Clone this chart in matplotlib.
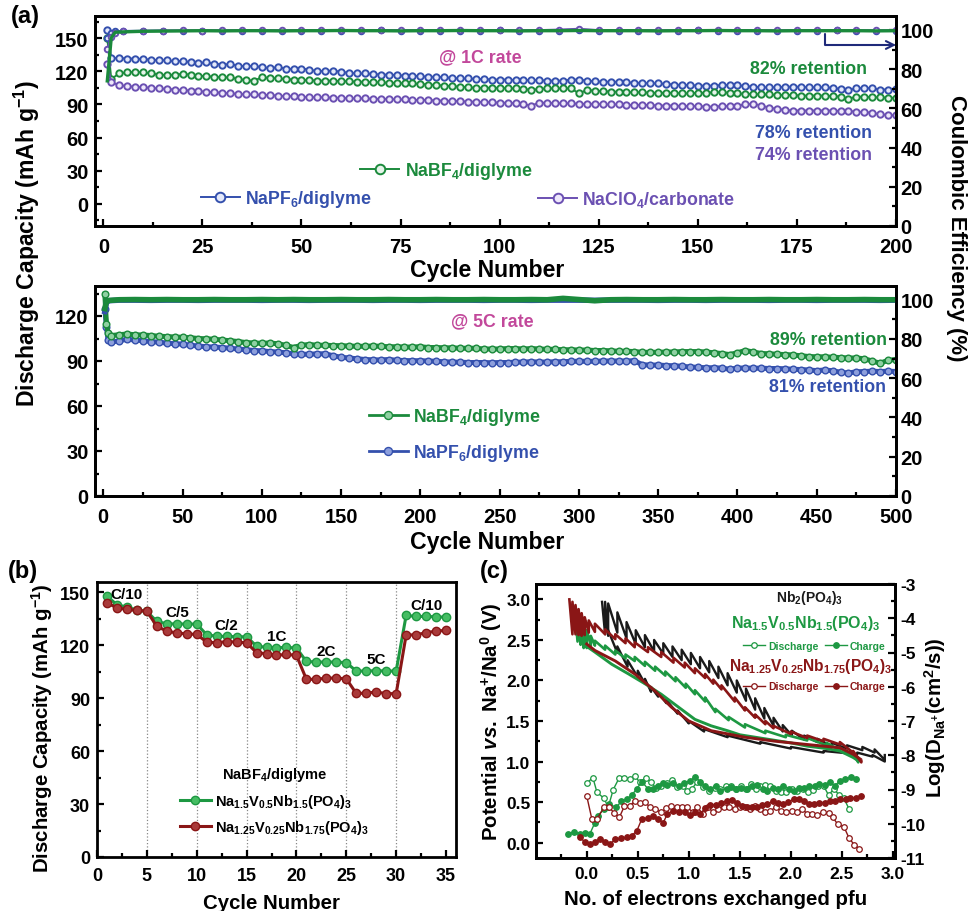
import numpy as np
import matplotlib
matplotlib.use('Agg')
import matplotlib.pyplot as plt
from matplotlib.ticker import MultipleLocator

plt.rcParams['font.family'] = 'Liberation Sans'
plt.rcParams['font.weight'] = 'bold'
plt.rcParams['mathtext.fontset'] = 'custom'
plt.rcParams['mathtext.rm'] = 'Liberation Sans:bold'
plt.rcParams['mathtext.it'] = 'Liberation Sans:italic:bold'
plt.rcParams['mathtext.bf'] = 'Liberation Sans:bold'
plt.rcParams['axes.linewidth'] = 2.0
plt.rcParams['axes.unicode_minus'] = False

# ---------------- (a) 1C cycling, 200 cycles ----------------
cycles_1c = np.r_[1, 2, np.arange(4, 201, 2)]
pf6_cap_1c = [157.0, 132.0,
              132.0, 131.5, 131.5, 131.0, 130.5, 130.0, 130.0, 129.0, 129.5, 128.0,
              127.5, 128.0, 127.0, 126.0, 126.5, 125.0, 124.5, 125.0, 123.5, 123.0,
              123.5, 122.5, 122.0, 122.5, 121.5, 120.0, 120.5, 120.5, 119.5, 118.5,
              118.0, 118.0, 117.5, 117.0, 117.0, 116.5, 116.0, 116.0, 115.5, 115.0,
              115.0, 114.5, 114.0, 113.5, 113.5, 113.0, 113.0, 112.5, 112.5, 112.5,
              112.0, 112.0, 112.0, 112.0, 111.5, 111.5, 111.5, 112.5, 112.5, 111.5,
              111.0, 110.5, 110.5, 110.5, 110.0, 109.5, 109.5, 109.0, 109.0, 108.5,
              108.0, 107.5, 107.5, 107.0, 107.0, 107.0, 107.5, 107.5, 107.5, 106.5,
              106.0, 105.5, 105.5, 105.5, 106.0, 106.0, 106.0, 105.5, 105.5, 105.5,
              105.0, 104.0, 103.0, 104.5, 105.0, 104.5, 103.5, 103.5, 104.0]
bf4_cap_1c = [150.0, 113.0,
              118.0, 119.0, 119.5, 119.0, 118.0, 117.0, 116.5, 117.0, 117.5, 117.0,
              116.0, 115.5, 115.0, 114.5, 114.5, 113.0, 112.0, 111.5, 114.5, 114.0,
              113.5, 113.0, 112.5, 112.0, 112.0, 111.5, 111.5, 111.5, 111.0, 111.0,
              110.5, 110.5, 110.0, 110.0, 109.5, 109.5, 109.0, 109.0, 108.5, 108.0,
              107.5, 107.0, 106.5, 106.0, 105.5, 105.0, 105.0, 105.0, 105.0, 104.5,
              104.5, 104.0, 103.0, 104.0, 104.5, 104.5, 104.5, 104.5, 100.0, 103.0,
              102.5, 102.0, 101.5, 101.5, 101.0, 101.0, 101.0, 100.5, 100.5, 100.5,
              100.5, 100.0, 100.0, 100.5, 100.5, 101.0, 101.0, 100.5, 100.0, 99.5,
              99.5, 99.0, 99.0, 98.5, 98.5, 98.5, 98.0, 98.0, 98.0, 98.0,
              97.5, 97.0, 95.0, 97.0, 97.0, 96.5, 96.5, 96.0, 96.0]
clo4_cap_1c = [126.5, 110.0,
               107.5, 106.5, 106.0, 105.5, 105.0, 104.5, 104.0, 103.5, 103.0, 102.5,
               102.0, 101.5, 101.0, 100.5, 100.0, 99.5, 99.0, 99.0, 98.5, 98.5,
               98.0, 97.5, 97.5, 97.0, 96.5, 96.5, 96.5, 96.0, 96.0, 95.5,
               95.5, 95.5, 95.0, 95.0, 95.0, 94.5, 94.5, 94.0, 94.0, 94.0,
               93.5, 93.5, 93.0, 93.0, 92.5, 92.5, 92.0, 92.0, 91.5, 91.5,
               91.0, 90.0, 89.0, 91.5, 91.5, 91.0, 91.0, 91.0, 90.5, 90.5,
               90.5, 90.0, 90.0, 90.0, 89.5, 89.5, 89.5, 89.5, 89.0, 89.0,
               89.0, 88.5, 88.5, 88.5, 88.0, 88.0, 88.5, 88.5, 89.0, 90.0,
               90.5, 89.0, 87.0, 86.0, 85.0, 84.5, 84.5, 84.5, 84.5, 84.5,
               84.5, 84.0, 84.0, 83.5, 83.0, 82.5, 81.0, 80.5, 80.0]

ce_cycles_1c = np.r_[1, 2, 3, np.arange(5, 201, 5)]
pf6_ce_1c = [96.0, 98.5, 99.3,
             99.5, 99.6, 99.7, 99.6, 99.7, 99.7, 99.6, 99.7, 99.7, 99.7,
             99.6, 99.7, 99.7, 99.8, 99.6, 99.7, 99.7, 99.6, 99.7, 99.8,
             99.7, 99.6, 99.7, 99.8, 99.7, 99.7, 99.6, 99.7, 99.7, 99.8,
             99.6, 99.7, 99.7, 99.6, 99.7, 99.7, 99.8, 99.6, 99.7, 99.7]
bf4_ce_1c = [74.0, 96.0, 98.8,
             99.0, 99.3, 99.4, 99.5, 99.6, 99.5, 99.6, 99.6, 99.5, 99.6,
             99.6, 99.7, 99.6, 99.6, 99.5, 99.6, 99.6, 99.7, 99.6, 99.6,
             99.5, 99.6, 99.6, 99.7, 99.6, 99.6, 99.6, 99.5, 99.6, 99.6,
             99.7, 99.6, 99.6, 99.5, 99.6, 99.6, 99.6, 99.6, 99.5, 99.6]
clo4_ce_1c = [90.5, 96.5, 98.5,
              99.2, 99.5, 99.6, 99.8, 99.7, 99.8, 99.9, 99.8, 99.8, 99.9,
              99.8, 99.9, 99.8, 99.8, 99.9, 99.8, 99.9, 99.8, 99.9, 99.8,
              99.8, 99.9, 100.2, 100.6, 99.9, 99.8, 99.9, 99.8, 99.8, 99.9,
              99.8, 99.9, 99.8, 99.8, 99.9, 99.8, 99.9, 99.8, 99.8, 99.8]

# ---------------- (a) 5C cycling, 500 cycles ----------------
cycles_5c = np.r_[1, 2, 3, np.arange(5, 501, 5)]
bf4_cap_5c = [134.5, 115.0, 109.0,
              107.0, 107.5, 108.0, 107.5, 107.3, 107.0, 106.5, 106.3, 106.0, 105.8,
              105.5, 105.0, 104.8, 104.5, 104.0, 103.5, 103.0, 102.3, 102.0, 101.8,
              102.0, 101.5, 100.5, 99.0, 100.5, 101.0, 100.5, 100.5, 100.3, 100.2,
              100.0, 99.8, 99.8, 100.0, 99.8, 99.5, 99.5, 99.3, 99.3, 99.5,
              99.0, 99.0, 98.8, 98.8, 98.5, 98.5, 98.5, 98.0, 98.0, 98.0,
              98.3, 98.3, 98.0, 98.3, 98.0, 97.8, 97.8, 97.5, 97.5, 97.3,
              97.3, 97.0, 97.0, 96.8, 96.5, 96.5, 96.3, 95.8, 95.8, 95.8,
              96.0, 96.0, 96.3, 96.3, 96.3, 96.0, 95.5, 95.0, 94.3, 95.5,
              97.0, 96.0, 95.0, 94.8, 94.5, 94.3, 94.0, 93.5, 93.0, 92.8,
              92.8, 92.5, 92.3, 92.0, 92.0, 91.5, 90.0, 88.5, 90.5, 91.0]
pf6_cap_5c = [124.5, 113.0, 104.0,
              102.5, 103.5, 104.5, 104.0, 103.5, 103.0, 102.5, 102.0, 101.5, 101.3,
              100.5, 100.0, 99.5, 99.3, 99.0, 98.5, 98.0, 97.5, 97.0, 96.8,
              96.3, 96.0, 95.5, 94.8, 94.5, 94.5, 94.8, 94.8, 93.5, 92.5,
              92.0, 91.5, 91.0, 90.8, 90.7, 91.0, 90.5, 90.3, 90.2, 90.2,
              90.0, 89.8, 89.5, 89.3, 89.2, 89.0, 89.0, 89.0, 88.8, 89.0,
              89.0, 89.2, 89.3, 89.5, 89.3, 89.3, 89.5, 89.5, 89.8, 89.8,
              89.8, 89.8, 90.0, 90.0, 90.0, 90.0, 90.2, 87.5, 87.3, 87.3,
              87.0, 86.8, 86.5, 86.0, 85.8, 85.5, 85.5, 85.3, 84.5, 85.3,
              85.3, 85.2, 85.2, 85.0, 85.0, 84.8, 84.5, 84.3, 84.0, 83.6,
              84.0, 83.5, 82.5, 82.0, 82.8, 83.0, 83.2, 83.0, 83.2, 83.0]

ce_cycles_5c = np.r_[1, 2, 3, np.arange(10, 501, 10)]
bf4_ce_5c = [95.5, 99.0, 99.6,
             100.0, 100.1, 100.0, 100.1, 100.0, 100.0, 100.1, 100.0, 100.0, 100.1,
             100.0, 100.1, 100.0, 100.0, 100.1, 100.0, 100.0, 100.1, 100.0, 100.0,
             100.1, 100.0, 100.0, 100.1, 100.0, 100.0, 100.1, 100.0, 100.7, 100.1,
             99.5, 100.0, 100.1, 100.0, 100.0, 100.1, 100.0, 100.0, 100.1, 100.0,
             100.0, 100.1, 100.0, 100.0, 100.1, 100.0, 100.0, 100.1, 100.0, 100.0]
pf6_ce_5c = [94.0, 98.5, 99.5,
             99.8, 99.8, 99.7, 99.8, 99.8, 99.7, 99.8, 99.8, 99.8, 99.7,
             99.8, 99.8, 99.7, 99.8, 99.8, 99.8, 99.7, 99.8, 99.8, 99.7,
             99.8, 99.8, 99.8, 99.7, 99.8, 99.8, 99.7, 99.8, 99.8, 99.8,
             99.7, 99.8, 99.8, 99.8, 99.7, 99.8, 99.8, 99.7, 99.8, 99.8,
             99.8, 99.7, 99.8, 99.8, 99.7, 99.8, 99.8, 99.8, 99.7, 99.8]

# ---------------- (b) rate capability ----------------
cycles_b = np.arange(1, 36)
rate_labels = ['C/10', 'C/5', 'C/2', '1C', '2C', '5C', 'C/10']
rate_switch = [5, 10, 15, 20, 25, 30]
v05_cap = [147.7, 142.8, 141.5, 139.8, 139.0,
           133.4, 132.0, 132.0, 131.9, 131.9,
           125.8, 125.0, 124.9, 124.7, 124.7,
           119.4, 118.7, 118.5, 118.7, 118.3,
           110.7, 110.4, 110.4, 110.4, 110.0,
           105.3, 105.3, 105.5, 105.3, 105.3,
           136.8, 136.2, 136.2, 136.0, 135.8]
v025_cap = [144.0, 141.0, 140.2, 139.6, 139.2,
            130.6, 127.9, 126.8, 126.4, 126.0,
            121.7, 121.3, 122.0, 121.7, 121.3,
            115.7, 115.1, 114.2, 114.7, 114.2,
            100.6, 100.6, 101.3, 101.3, 100.9,
            92.6, 92.8, 93.4, 92.5, 92.5,
            125.7, 125.8, 127.0, 127.9, 128.3]

# ---------------- (c) GITT curves ----------------
nb_up_x = [0.15, 0.18, 0.21, 0.30, 0.39, 0.48, 0.57, 0.66, 0.75, 0.84,
           0.93, 1.02, 1.11, 1.20, 1.29, 1.38, 1.47, 1.56, 1.65, 1.74,
           1.83, 1.92, 2.01, 2.13, 2.26, 2.40, 2.55, 2.70, 2.82, 2.92]
nb_up_v = [2.97, 2.97, 2.95, 2.84, 2.72, 2.62, 2.56, 2.50, 2.46, 2.42,
           2.38, 2.34, 2.29, 2.24, 2.17, 2.09, 2.00, 1.90, 1.78, 1.66,
           1.54, 1.45, 1.38, 1.32, 1.28, 1.23, 1.20, 1.18, 1.15, 1.08]
nb_up_d = [0.00, 0.40, 0.40, 0.25, 0.20, 0.17, 0.15, 0.14, 0.13, 0.13,
           0.13, 0.14, 0.14, 0.14, 0.14, 0.15, 0.15, 0.15, 0.14, 0.13,
           0.10, 0.08, 0.06, 0.05, 0.04, 0.04, 0.04, 0.04, 0.04, 0.06]
nb_low_x = [0.21, 0.30, 0.40, 0.50, 0.57, 0.63, 0.70, 0.78, 0.89, 1.00,
            1.15, 1.38, 1.70, 2.00, 2.32, 2.65, 2.80, 2.92]
nb_low_v = [2.62, 2.42, 2.25, 2.12, 2.02, 1.92, 1.85, 1.76, 1.63, 1.50,
            1.40, 1.32, 1.24, 1.18, 1.13, 1.11, 1.08, 1.02]
nb_low_d = [0.00, 0.08, 0.08, 0.08, 0.06, 0.06, 0.05, 0.04, 0.04, 0.03,
            0.03, 0.02, 0.02, 0.02, 0.02, 0.02, 0.02, 0.02]

v05_up_x = [-0.12, -0.09, -0.06, -0.03, 0.00, 0.04, 0.08, 0.18, 0.28, 0.38,
            0.47, 0.57, 0.67, 0.77, 0.87, 0.97, 1.06, 1.16, 1.26, 1.39,
            1.55, 1.75, 1.95, 2.16, 2.35, 2.48, 2.61, 2.66]
v05_up_v = [2.90, 2.86, 2.80, 2.72, 2.62, 2.55, 2.49, 2.43, 2.37, 2.32,
            2.29, 2.23, 2.17, 2.11, 2.04, 1.96, 1.88, 1.79, 1.65, 1.55,
            1.46, 1.38, 1.33, 1.29, 1.23, 1.17, 1.09, 1.01]
v05_up_d = [0.00, 0.38, 0.36, 0.32, 0.22, 0.12, 0.06, 0.05, 0.05, 0.05,
            0.05, 0.05, 0.05, 0.05, 0.05, 0.05, 0.05, 0.05, 0.04, 0.04,
            0.04, 0.03, 0.03, 0.03, 0.03, 0.03, 0.02, 0.02]
v05_low_x = [0.00, 0.08, 0.245, 0.41, 0.57, 0.73, 0.90, 1.06, 1.22, 1.38,
             1.50, 1.75, 2.00, 2.16, 2.35, 2.48, 2.61, 2.66]
v05_low_v = [2.42, 2.35, 2.20, 2.08, 1.96, 1.83, 1.67, 1.52, 1.44, 1.38,
             1.33, 1.28, 1.23, 1.19, 1.16, 1.13, 1.05, 1.01]

v025_up_x = [-0.17, -0.14, -0.11, -0.08, -0.05, -0.02, 0.02, 0.08, 0.18, 0.28,
             0.38, 0.47, 0.60, 0.73, 0.85, 0.96, 1.06, 1.16, 1.24, 1.32,
             1.45, 1.55, 1.65, 1.75, 1.83, 2.00, 2.16, 2.32, 2.48, 2.61, 2.69]
v025_up_v = [3.00, 2.97, 2.93, 2.88, 2.83, 2.78, 2.74, 2.70, 2.63, 2.57,
             2.52, 2.47, 2.41, 2.35, 2.28, 2.22, 2.15, 2.08, 2.01, 1.94,
             1.79, 1.67, 1.58, 1.50, 1.44, 1.37, 1.32, 1.28, 1.24, 1.13, 1.01]
v025_up_d = [0.00, 0.40, 0.36, 0.32, 0.28, 0.22, 0.15, 0.10, 0.06, 0.06,
             0.06, 0.06, 0.06, 0.06, 0.06, 0.06, 0.06, 0.05, 0.05, 0.05,
             0.05, 0.04, 0.04, 0.04, 0.03, 0.03, 0.03, 0.03, 0.03, 0.02, 0.02]
v025_low_x = [0.00, 0.08, 0.28, 0.47, 0.67, 0.83, 1.00, 1.22, 1.55, 1.85,
              2.16, 2.48, 2.61, 2.68]
v025_low_v = [2.45, 2.37, 2.24, 2.08, 1.87, 1.67, 1.50, 1.38, 1.30, 1.25,
              1.21, 1.17, 1.09, 1.03]

# log D (cm2/s) from GITT
v05_dis_x = [0.00, 0.06, 0.10, 0.17, 0.21, 0.26, 0.32, 0.37, 0.42, 0.47,
             0.52, 0.58, 0.63, 0.68, 0.73, 0.79, 0.84, 0.88, 0.94, 0.98,
             1.03, 1.08, 1.14, 1.20, 1.26, 1.31, 1.36, 1.41, 1.46, 1.51,
             1.56, 1.61, 1.66, 1.70, 1.75, 1.80, 1.85, 1.90, 1.95, 2.01,
             2.06, 2.12, 2.17, 2.22, 2.27, 2.32, 2.37, 2.42, 2.47, 2.52, 2.57]
v05_dis_logd = [-8.82, -8.65, -9.08, -9.26, -9.52, -9.00, -8.65, -8.65, -8.70, -8.60,
                -8.79, -8.65, -8.79, -8.96, -8.89, -8.82, -8.72, -8.93, -8.89, -9.03,
                -8.98, -8.79, -8.93, -9.03, -8.96, -8.98, -8.91, -8.89, -8.98, -8.91,
                -8.98, -8.84, -8.98, -8.89, -8.86, -8.89, -9.03, -9.08, -9.08, -8.98,
                -9.03, -8.98, -9.08, -9.00, -8.89, -8.89, -9.17, -8.98, -9.15, -9.26, -9.57]
v05_chg_x = [-0.18, -0.12, -0.07, -0.02, 0.03, 0.08, 0.11, 0.17, 0.22, 0.29,
             0.34, 0.39, 0.44, 0.49, 0.54, 0.60, 0.65, 0.70, 0.75, 0.79,
             0.85, 0.90, 0.95, 1.01, 1.06, 1.11, 1.16, 1.21, 1.27, 1.31,
             1.37, 1.41, 1.46, 1.51, 1.57, 1.62, 1.67, 1.73, 1.77, 1.82,
             1.87, 1.92, 1.98, 2.03, 2.08, 2.13, 2.18, 2.24, 2.28, 2.33,
             2.38, 2.43, 2.48, 2.53, 2.59, 2.64]
v05_chg_logd = [-10.30, -10.23, -10.30, -10.28, -10.30, -9.97, -9.76, -9.57, -9.43, -9.52,
                -9.34, -9.29, -9.17, -8.98, -8.77, -8.98, -8.98, -8.89, -8.82, -8.86,
                -8.82, -8.89, -8.82, -8.75, -8.63, -8.77, -8.89, -8.98, -8.91, -9.03,
                -8.98, -8.93, -8.98, -8.96, -8.98, -8.91, -8.86, -8.98, -9.03, -8.96,
                -8.98, -8.89, -8.98, -9.03, -8.96, -8.96, -8.89, -8.91, -8.84, -8.86,
                -8.79, -8.89, -8.75, -8.70, -8.63, -8.70]
v025_dis_x = [0.00, 0.05, 0.10, 0.17, 0.22, 0.27, 0.32, 0.37, 0.42, 0.47,
              0.52, 0.57, 0.62, 0.67, 0.73, 0.78, 0.83, 0.88, 0.93, 0.98,
              1.04, 1.08, 1.14, 1.19, 1.24, 1.29, 1.34, 1.39, 1.45, 1.50,
              1.55, 1.60, 1.65, 1.70, 1.75, 1.80, 1.85, 1.90, 1.95, 2.01,
              2.06, 2.11, 2.16, 2.21, 2.26, 2.31, 2.37, 2.41, 2.46, 2.52,
              2.57, 2.62, 2.67]
v025_dis_logd = [-9.19, -9.86, -9.86, -9.52, -9.52, -9.69, -9.81, -9.48, -9.48, -9.34,
                 -9.38, -9.36, -9.52, -9.57, -9.67, -9.55, -9.48, -9.52, -9.50, -9.50,
                 -9.67, -9.52, -9.71, -9.52, -9.67, -9.57, -9.52, -9.52, -9.57, -9.52,
                 -9.50, -9.57, -9.48, -9.57, -9.67, -9.62, -9.52, -9.62, -9.67, -9.62,
                 -9.67, -9.57, -9.71, -9.71, -9.74, -9.67, -9.69, -9.81, -10.02, -10.09,
                 -10.42, -10.61, -10.73]
v025_chg_x = [-0.07, -0.02, 0.03, 0.08, 0.13, 0.18, 0.23, 0.28, 0.34, 0.39,
              0.44, 0.49, 0.54, 0.60, 0.65, 0.70, 0.75, 0.79, 0.85, 0.90,
              0.96, 1.01, 1.06, 1.11, 1.16, 1.21, 1.27, 1.32, 1.37, 1.42,
              1.47, 1.52, 1.57, 1.62, 1.67, 1.72, 1.77, 1.82, 1.87, 1.92,
              1.97, 2.03, 2.08, 2.13, 2.18, 2.23, 2.28, 2.33, 2.38, 2.43,
              2.48, 2.54, 2.58, 2.64, 2.69]
v025_chg_logd = [-10.40, -10.52, -10.59, -10.54, -10.45, -10.54, -10.59, -10.45, -10.42, -10.40,
                 -10.35, -10.21, -9.86, -9.83, -9.78, -9.86, -9.97, -9.71, -9.62, -9.67,
                 -9.67, -9.74, -9.67, -9.71, -9.55, -9.45, -9.45, -9.38, -9.34, -9.31,
                 -9.38, -9.48, -9.52, -9.52, -9.50, -9.45, -9.43, -9.34, -9.38, -9.43,
                 -9.36, -9.29, -9.29, -9.34, -9.41, -9.41, -9.38, -9.38, -9.34, -9.34,
                 -9.29, -9.29, -9.26, -9.24, -9.19]

# colours
GREEN_A, GREEN_A_L = '#1b8a3c', '#e6f4ea'
BLUE_A, BLUE_A_L = '#3450ad', '#e4e9fa'
PURPLE_A, PURPLE_A_L = '#6b50b2', '#eee8fb'
MAGENTA = '#c2489b'
GREEN, GREEN_L = '#1d9842', '#45bd63'
RED, RED_L = '#8a1616', '#a93a3a'

W, H = 970, 912
fig = plt.figure(figsize=(W / 100, H / 100), dpi=100)


def box(l, t, r, b):
    return [l / W, 1 - b / H, (r - l) / W, (b - t) / H]


def ticks(ax, size, xpad, ypad, right=False):
    ax.tick_params(which='both', direction='in', width=1.6, labelsize=size,
                   top=False, right=right, left=not right)
    ax.tick_params(which='major', length=5)
    ax.tick_params(which='minor', length=3)
    ax.tick_params(axis='x', pad=xpad)
    ax.tick_params(axis='y', pad=ypad)


def beads(color, light, ms, mew=1.4, lw=1.4):
    return dict(color=color, marker='o', ms=ms, mfc=light, mec=color, mew=mew, lw=lw)


def gitt(xs, vs, ds):
    px, py = [xs[0]], [vs[0]]
    for x, v, d in zip(xs[1:], vs[1:], ds[1:]):
        px += [x, x]
        py += [v - d, v]
    return px, py


# ======== (a) top: 1C ========
ax1 = fig.add_axes(box(95, 17, 896, 227))
ax1r = ax1.twinx()
l_pf6, = ax1.plot(cycles_1c, pf6_cap_1c, **beads(BLUE_A, BLUE_A_L, 4.6))
l_bf4, = ax1.plot(cycles_1c, bf4_cap_1c, **beads(GREEN_A, GREEN_A_L, 4.6))
l_clo4, = ax1.plot(cycles_1c, clo4_cap_1c, **beads(PURPLE_A, PURPLE_A_L, 4.6))
ax1r.plot(ce_cycles_1c, pf6_ce_1c, **beads(BLUE_A, BLUE_A_L, 4))
ax1r.plot(ce_cycles_1c, clo4_ce_1c, **beads(PURPLE_A, PURPLE_A_L, 4))
ax1r.plot(ce_cycles_1c, bf4_ce_1c, color=GREEN_A, lw=2.4)
ax1.set_xlim(-2.1, 200)
ax1.set_ylim(-20, 170)
ax1r.set_ylim(0, 107.1)
ax1.xaxis.set_major_locator(MultipleLocator(25))
ax1.xaxis.set_minor_locator(MultipleLocator(12.5))
ax1.yaxis.set_major_locator(MultipleLocator(30))
ax1.yaxis.set_minor_locator(MultipleLocator(15))
ax1r.yaxis.set_major_locator(MultipleLocator(20))
ax1r.yaxis.set_minor_locator(MultipleLocator(10))
ticks(ax1, 14.5, 8, 4.5)
ticks(ax1r, 14.5, 8, 3.2, right=True)

leg_kw = dict(frameon=False, fontsize=12.8, handlelength=2.2, handletextpad=0.3,
              borderpad=0, borderaxespad=0, numpoints=1, markerscale=1.5,
              loc='center left')
lg = ax1.legend([l_bf4], ['NaBF$_4$/diglyme'], bbox_to_anchor=(0.331, 0.262),
                labelcolor=GREEN_A, **leg_kw)
ax1.add_artist(lg)
lg = ax1.legend([l_pf6], ['NaPF$_6$/diglyme'], bbox_to_anchor=(0.132, 0.129),
                labelcolor=BLUE_A, **leg_kw)
ax1.add_artist(lg)
ax1.legend([l_clo4], ['NaClO$_4$/carbonate'], bbox_to_anchor=(0.553, 0.129),
           labelcolor=PURPLE_A, **leg_kw)

ax1.text(0.481, 0.805, '@ 1C rate', transform=ax1.transAxes, color=MAGENTA,
         fontsize=12.8, ha='center', va='center')
ax1.text(0.964, 0.752, '82% retention', transform=ax1.transAxes, color=GREEN_A,
         fontsize=12.8, ha='right', va='center')
ax1.text(0.970, 0.443, '78% retention', transform=ax1.transAxes, color=BLUE_A,
         fontsize=12.8, ha='right', va='center')
ax1.text(0.970, 0.340, '74% retention', transform=ax1.transAxes, color=PURPLE_A,
         fontsize=12.8, ha='right', va='center')
ax1.annotate('', xy=(1.0, 0.862), xytext=(0.911, 0.914), xycoords='axes fraction',
             arrowprops=dict(arrowstyle='->', color='#1f2a7a', lw=1.5, mutation_scale=14,
                             shrinkA=0, shrinkB=0,
                             connectionstyle='angle,angleA=90,angleB=0,rad=0'))

# ======== (a) bottom: 5C ========
ax2 = fig.add_axes(box(95, 287, 896, 497))
ax2r = ax2.twinx()
m_pf6, = ax2.plot(cycles_5c, pf6_cap_5c, **beads(BLUE_A, '#8d9fdc', 4.8, 1.0, 3.6))
m_bf4, = ax2.plot(cycles_5c, bf4_cap_5c, **beads(GREEN_A, '#8fd1a2', 4.8, 1.0, 3.6))
ax2r.plot(ce_cycles_5c, pf6_ce_5c, color=BLUE_A, lw=4)
ax2r.plot(ce_cycles_5c, bf4_ce_5c, color=GREEN_A, lw=4)
ax2.set_xlim(-5.2, 500)
ax2.set_ylim(0, 140)
ax2r.set_ylim(0, 107)
ax2.xaxis.set_major_locator(MultipleLocator(50))
ax2.xaxis.set_minor_locator(MultipleLocator(25))
ax2.yaxis.set_major_locator(MultipleLocator(30))
ax2.yaxis.set_minor_locator(MultipleLocator(15))
ax2r.yaxis.set_major_locator(MultipleLocator(20))
ax2r.yaxis.set_minor_locator(MultipleLocator(10))
ticks(ax2, 14.5, 8, 4.5)
ticks(ax2r, 14.5, 8, 3.2, right=True)

leg_kw2 = dict(leg_kw)
leg_kw2['labelspacing'] = 0.85
leg_kw2['markerscale'] = 1.2
lg = ax2.legend([m_bf4, m_pf6], ['NaBF$_4$/diglyme', 'NaPF$_6$/diglyme'],
                bbox_to_anchor=(0.342, 0.293), **leg_kw2)
for t, c in zip(lg.get_texts(), [GREEN_A, BLUE_A]):
    t.set_color(c)
for h in lg.legend_handles:
    h.set_linewidth(2)
ax2.text(0.496, 0.835, '@ 5C rate', transform=ax2.transAxes, color=MAGENTA,
         fontsize=12.8, ha='center', va='center')
ax2.text(0.989, 0.743, '89% retention', transform=ax2.transAxes, color=GREEN_A,
         fontsize=12.8, ha='right', va='center')
ax2.text(0.9875, 0.520, '81% retention', transform=ax2.transAxes, color=BLUE_A,
         fontsize=12.8, ha='right', va='center')

fig.text(27 / W, 1 - 244 / H, 'Discharge Capacity (mAh g$^{-1}$)', rotation=90,
         ha='center', va='center', fontsize=16.6)
fig.text(957 / W, 1 - 228 / H, 'Coulombic Efficiency (%)', rotation=-90,
         ha='center', va='center', fontsize=16)
fig.text(487 / W, 1 - 270 / H, 'Cycle Number', ha='center', va='center', fontsize=16.6)
fig.text(487 / W, 1 - 542 / H, 'Cycle Number', ha='center', va='center', fontsize=16.6)
fig.text(11 / W, 1 - 17 / H, '(a)', ha='left', va='center', fontsize=17)

# ======== (b) rate capability ========
axb = fig.add_axes(box(97, 583, 456, 858))
for x in rate_switch:
    axb.axvline(x, color='#888888', ls=':', lw=0.9, zorder=0)
n_b1, = axb.plot(cycles_b, v05_cap, color=GREEN, marker='o', ms=6, mfc=GREEN_L,
                 mec=GREEN, mew=1.0, lw=2.2)
n_b2, = axb.plot(cycles_b, v025_cap, color=RED, marker='o', ms=6, mfc=RED_L,
                 mec=RED, mew=1.0, lw=2.2)
for k, lab in enumerate(rate_labels):
    seg = slice(5 * k, 5 * k + 5)
    axb.text(np.mean(cycles_b[seg]), np.mean(v05_cap[seg]) + 6.5, lab,
             fontsize=11, ha='center', va='center')
axb.set_xlim(0, 36)
axb.set_ylim(0, 155.7)
axb.xaxis.set_major_locator(MultipleLocator(5))
axb.xaxis.set_minor_locator(MultipleLocator(2.5))
axb.yaxis.set_major_locator(MultipleLocator(30))
axb.yaxis.set_minor_locator(MultipleLocator(15))
ticks(axb, 13, 7, 5)
axb.legend([n_b1, n_b2],
           ['Na$_{1.5}$V$_{0.5}$Nb$_{1.5}$(PO$_4$)$_3$',
            'Na$_{1.25}$V$_{0.25}$Nb$_{1.75}$(PO$_4$)$_3$'],
           title='NaBF$_4$/diglyme', title_fontproperties={'size': 10.5, 'weight': 'bold'},
           fontsize=10.5, frameon=False, handlelength=2.1, handletextpad=0.3,
           labelspacing=0.6, borderpad=0, borderaxespad=0, numpoints=1,
           loc='lower left', bbox_to_anchor=(0.231, 0.075))
fig.text(42 / W, 1 - 728 / H, 'Discharge Capacity (mAh g$^{-1}$)', rotation=90,
         ha='center', va='center', fontsize=14.7)
fig.text(271 / W, 1 - 904 / H, 'Cycle Number', ha='center', va='center', fontsize=14.7)
fig.text(8 / W, 1 - 572 / H, '(b)', ha='left', va='center', fontsize=17)

# ======== (c) GITT ========
axc = fig.add_axes(box(536, 585, 895, 859))
axcr = axc.twinx()
axc.plot(*gitt(nb_up_x, nb_up_v, nb_up_d), color='#1a1a1a', lw=1.7)
axc.plot(*gitt(nb_low_x, nb_low_v, nb_low_d), color='#1a1a1a', lw=1.7)
axc.plot(*gitt(v05_up_x, v05_up_v, v05_up_d), color=GREEN, lw=1.9)
axc.plot(v05_low_x, v05_low_v, color=GREEN, lw=2.1)
axc.plot(*gitt(v025_up_x, v025_up_v, v025_up_d), color=RED, lw=1.9)
axc.plot(v025_low_x, v025_low_v, color=RED, lw=2.1)
dk = dict(marker='o', ms=4, mew=0.9, lw=1.0)
g_dis, = axcr.plot(v05_dis_x, v05_dis_logd, color=GREEN, mfc='white', mec=GREEN, **dk)
g_chg, = axcr.plot(v05_chg_x, v05_chg_logd, color=GREEN, mfc=GREEN, mec=GREEN, **dk)
r_dis, = axcr.plot(v025_dis_x, v025_dis_logd, color=RED, mfc='white', mec=RED, **dk)
r_chg, = axcr.plot(v025_chg_x, v025_chg_logd, color=RED, mfc=RED, mec=RED, **dk)
axc.set_xlim(-0.497, 3.02)
axc.set_ylim(-0.19, 3.19)
axcr.set_ylim(-11, -3)
axc.xaxis.set_major_locator(MultipleLocator(0.5))
axc.xaxis.set_minor_locator(MultipleLocator(0.25))
axc.yaxis.set_major_locator(MultipleLocator(0.5))
axc.yaxis.set_minor_locator(MultipleLocator(0.25))
axcr.yaxis.set_major_locator(MultipleLocator(1))
axcr.yaxis.set_minor_locator(MultipleLocator(0.5))
ticks(axc, 12.5, 6, 4)
ticks(axcr, 12.5, 6, 4, right=True)

axc.text(0.763, 0.953, 'Nb$_2$(PO$_4$)$_3$', transform=axc.transAxes, fontsize=10,
         ha='center', va='center', color='#1a1a1a')
axc.text(0.752, 0.858, 'Na$_{1.5}$V$_{0.5}$Nb$_{1.5}$(PO$_4$)$_3$', transform=axc.transAxes,
         fontsize=11.5, ha='center', va='center', color=GREEN)
axc.text(0.765, 0.704, 'Na$_{1.25}$V$_{0.25}$Nb$_{1.75}$(PO$_4$)$_3$', transform=axc.transAxes,
         fontsize=11.2, ha='center', va='center', color=RED)
leg_c = dict(ncol=2, frameon=False, fontsize=7.5, handlelength=2.1, handletextpad=0.3,
             columnspacing=0.6, borderpad=0, borderaxespad=0, numpoints=1,
             loc='center left')
lg = axcr.legend([g_dis, g_chg], ['Discharge', 'Charge'], labelcolor=GREEN,
                 bbox_to_anchor=(0.577, 0.775), **leg_c)
axcr.add_artist(lg)
axcr.legend([r_dis, r_chg], ['Discharge', 'Charge'], labelcolor=RED,
            bbox_to_anchor=(0.577, 0.627), **leg_c)

fig.text(491 / W, 1 - 722 / H, 'Potential $\\it{vs.}$ Na$^{+}$/Na$^{0}$ (V)', rotation=90,
         ha='center', va='center', fontsize=14.7)
fig.text(935 / W, 1 - 718 / H, 'Log(D$_{\\mathrm{Na^{+}}}$(cm$^{2}$/s))', rotation=90,
         ha='center', va='center', fontsize=14.7)
fig.text(716 / W, 1 - 900 / H, 'No. of electrons exchanged pfu', ha='center', va='center',
         fontsize=14.7)
fig.text(480 / W, 1 - 572 / H, '(c)', ha='left', va='center', fontsize=17)

fig.savefig('out.png', dpi=100)
